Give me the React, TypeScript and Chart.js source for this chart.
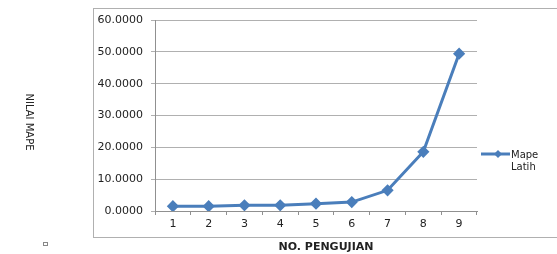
import React, { useEffect, useRef } from "react";
import { Chart, registerables } from "chart.js";
Chart.register(...registerables);

const categories = ["1", "2", "3", "4", "5", "6", "7", "8", "9"];
const mapeLatih = [1.5, 1.5, 1.8, 1.8, 2.3, 2.8, 6.5, 18.6, 49.4];
const seriesLabel = ["Mape", "Latih"];
const yTitle = "NILAI MAPE";
const xTitle = "NO. PENGUJIAN";

const BLUE = "#4a7ebb";
const FONT = "'DejaVu Sans', Verdana, sans-serif";

const decor = {
  id: "decor",
  afterDraw(chart: any) {
    const ctx = chart.ctx;
    ctx.save();
    // outer frame
    ctx.strokeStyle = "#b0b0b0";
    ctx.lineWidth = 1;
    ctx.strokeRect(93.5, 8.5, 470, 229);
    // y title rotated
    ctx.fillStyle = "#222";
    ctx.font = `10px ${FONT}`;
    ctx.translate(29, 122);
    ctx.rotate(Math.PI / 2);
    ctx.textAlign = "center";
    ctx.textBaseline = "middle";
    ctx.fillText(yTitle, 0, 0);
    ctx.restore();
    ctx.save();
    ctx.fillStyle = "#222";
    ctx.font = `bold 11px ${FONT}`;
    ctx.textAlign = "center";
    ctx.textBaseline = "middle";
    ctx.fillText(xTitle, 326, 247);
    // small square
    ctx.strokeStyle = "#888";
    ctx.lineWidth = 1;
    ctx.strokeRect(43.5, 242.5, 4, 3);
    // legend
    const ly = 154;
    ctx.strokeStyle = BLUE;
    ctx.lineWidth = 3;
    ctx.beginPath();
    ctx.moveTo(481, ly);
    ctx.lineTo(510, ly);
    ctx.stroke();
    ctx.fillStyle = BLUE;
    ctx.beginPath();
    ctx.moveTo(498, ly - 4);
    ctx.lineTo(502, ly);
    ctx.lineTo(498, ly + 4);
    ctx.lineTo(494, ly);
    ctx.closePath();
    ctx.fill();
    ctx.fillStyle = "#222";
    ctx.font = `10px ${FONT}`;
    ctx.textAlign = "left";
    ctx.textBaseline = "middle";
    ctx.fillText(seriesLabel[0], 511, ly + 1);
    ctx.fillText(seriesLabel[1], 511, ly + 13);
    ctx.restore();
  },
};

export default function App() {
  const ref = useRef<HTMLCanvasElement>(null);
  useEffect(() => {
    const chart = new Chart(ref.current!, {
      type: "line",
      data: {
        labels: categories,
        datasets: [
          {
            label: seriesLabel.join(" "),
            data: mapeLatih,
            borderColor: BLUE,
            backgroundColor: BLUE,
            borderWidth: 3,
            pointStyle: "rectRot",
            pointRadius: 4,
            pointBackgroundColor: BLUE,
            pointBorderColor: BLUE,
            tension: 0,
          },
        ],
      },
      options: {
        animation: false,
        responsive: false,
        layout: { padding: { left: 95, right: 80, top: 20, bottom: 25 } },
        plugins: { legend: { display: false }, tooltip: { enabled: false } },
        scales: {
          x: {
            offset: true,
            afterFit: (s: any) => {
              s.height = 18;
            },
            grid: {
              offset: true,
              drawOnChartArea: false,
              drawTicks: true,
              tickLength: 4,
              color: "#909090",
            },
            border: { color: "#909090" },
            ticks: { color: "#222", font: { family: FONT, size: 11 }, padding: 3 },
          },
          y: {
            min: 0,
            max: 60,
            afterFit: (s: any) => {
              s.width = 60;
            },
            ticks: {
              stepSize: 10,
              color: "#222",
              font: { family: FONT, size: 11 },
              padding: 8,
              callback: (v: any) => Number(v).toFixed(4),
            },
            grid: { color: "#b0b0b0", tickLength: 4 },
            border: { color: "#909090" },
          },
        },
      },
      plugins: [decor],
    });
    return () => chart.destroy();
  }, []);
  return (
    <div style={{ position: "absolute", left: 0, top: 0, width: 557, height: 254, background: "#fff" }}>
      <canvas ref={ref} width={557} height={254} />
    </div>
  );
}
